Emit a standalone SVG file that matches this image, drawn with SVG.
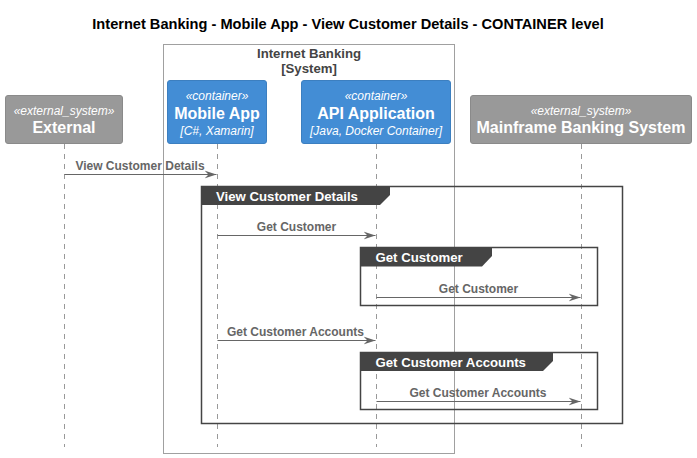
<svg xmlns="http://www.w3.org/2000/svg" width="697" height="458" viewBox="0 0 697 458">
<style>
text{font-family:"Liberation Sans",Arial,sans-serif}
.title{font-size:14.6px;font-weight:bold;fill:#000}
.bnd{font-size:13.2px;font-weight:bold;fill:#444}
.st{font-size:12px;font-style:italic;fill:#fff}
.nm{font-size:16px;font-weight:bold;fill:#fff}
.tech{font-size:12px;font-style:italic;fill:#fff}
.ext{fill:#999999;stroke:#8A8A8A;stroke-width:1}
.cont{fill:#438DD5;stroke:#3C7FC0;stroke-width:1}
.life{stroke:#999;stroke-width:1;stroke-dasharray:5,5;fill:none}
.msg{stroke:#666;stroke-width:1;fill:none}
.lbl{font-size:12px;font-weight:bold;fill:#666}
.frame{fill:none;stroke:#444;stroke-width:1.5}
.tab{fill:#444}
.ftxt{font-size:13.2px;font-weight:bold;fill:#fff}
</style>
<defs>
<marker id="ah" markerWidth="12" markerHeight="10" refX="12" refY="5" orient="auto" markerUnits="userSpaceOnUse">
<polygon points="0,1 12,5 0,9 4,5" fill="#666"/>
</marker>
</defs>
<text class="title" x="348" y="29" text-anchor="middle">Internet Banking - Mobile App - View Customer Details - CONTAINER level</text>
<g id="boundary">
<rect x="163.5" y="44.5" width="291" height="409" fill="none" stroke="#A0A0A0" stroke-width="1"/>
<text class="bnd" x="309" y="58" text-anchor="middle">Internet Banking</text>
<text class="bnd" x="309" y="73" text-anchor="middle">[System]</text>
</g>
<g id="lifelines">
<line class="life" x1="64.5" y1="144" x2="64.5" y2="447"/>
<line class="life" x1="217.5" y1="144" x2="217.5" y2="447"/>
<line class="life" x1="376.5" y1="144" x2="376.5" y2="447"/>
<line class="life" x1="581.5" y1="144" x2="581.5" y2="447"/>
</g>
<g id="External">
<rect class="ext" x="5.5" y="95.5" width="117" height="48" rx="2.5"/>
<text class="st" x="64" y="115" text-anchor="middle">«external_system»</text>
<text class="nm" x="64" y="133" text-anchor="middle">External</text>
</g>
<g id="MobileApp">
<rect class="cont" x="167.5" y="80.5" width="99" height="63" rx="2.5"/>
<text class="st" x="217" y="100" text-anchor="middle">«container»</text>
<text class="nm" x="217" y="119" text-anchor="middle">Mobile App</text>
<text class="tech" x="217" y="135" text-anchor="middle">[C#, Xamarin]</text>
</g>
<g id="APIApplication">
<rect class="cont" x="301.5" y="80.5" width="149" height="63" rx="2.5"/>
<text class="st" x="376" y="100" text-anchor="middle">«container»</text>
<text class="nm" x="376" y="119" text-anchor="middle">API Application</text>
<text class="tech" x="376" y="135" text-anchor="middle">[Java, Docker Container]</text>
</g>
<g id="Mainframe">
<rect class="ext" x="470.5" y="95.5" width="221" height="48" rx="2.5"/>
<text class="st" x="581" y="115" text-anchor="middle">«external_system»</text>
<text class="nm" x="581" y="133" text-anchor="middle">Mainframe Banking System</text>
</g>
<g id="frames">
<g id="frameViewCustomerDetails">
<rect class="frame" x="201.5" y="186.5" width="421" height="237"/>
<polygon class="tab" points="201,186 390,186 390,195 380,205 201,205"/>
<text class="ftxt" x="216" y="201">View Customer Details</text>
</g>
<g id="frameGetCustomer">
<rect class="frame" x="360.5" y="247.5" width="237" height="58"/>
<polygon class="tab" points="360,247 492,247 492,256 482,266.5 360,266.5"/>
<text class="ftxt" x="375.5" y="262">Get Customer</text>
</g>
<g id="frameGetCustomerAccounts">
<rect class="frame" x="360.5" y="352.5" width="237" height="57"/>
<polygon class="tab" points="360,352 553,352 553,361 543,371 360,371"/>
<text class="ftxt" x="375.5" y="367">Get Customer Accounts</text>
</g>
</g>
<g id="connectors">
<line class="msg" x1="64.5" y1="174.5" x2="216.5" y2="174.5" marker-end="url(#ah)"/>
<text class="lbl" x="140" y="170" text-anchor="middle">View Customer Details</text>
<line class="msg" x1="217.5" y1="235.5" x2="375.5" y2="235.5" marker-end="url(#ah)"/>
<text class="lbl" x="296.5" y="231" text-anchor="middle">Get Customer</text>
<line class="msg" x1="376.5" y1="297.5" x2="580.5" y2="297.5" marker-end="url(#ah)"/>
<text class="lbl" x="478.5" y="293" text-anchor="middle">Get Customer</text>
<line class="msg" x1="217.5" y1="340.5" x2="375.5" y2="340.5" marker-end="url(#ah)"/>
<text class="lbl" x="295.5" y="336" text-anchor="middle">Get Customer Accounts</text>
<line class="msg" x1="376.5" y1="401.5" x2="580.5" y2="401.5" marker-end="url(#ah)"/>
<text class="lbl" x="478" y="397" text-anchor="middle">Get Customer Accounts</text>
</g>
</svg>
